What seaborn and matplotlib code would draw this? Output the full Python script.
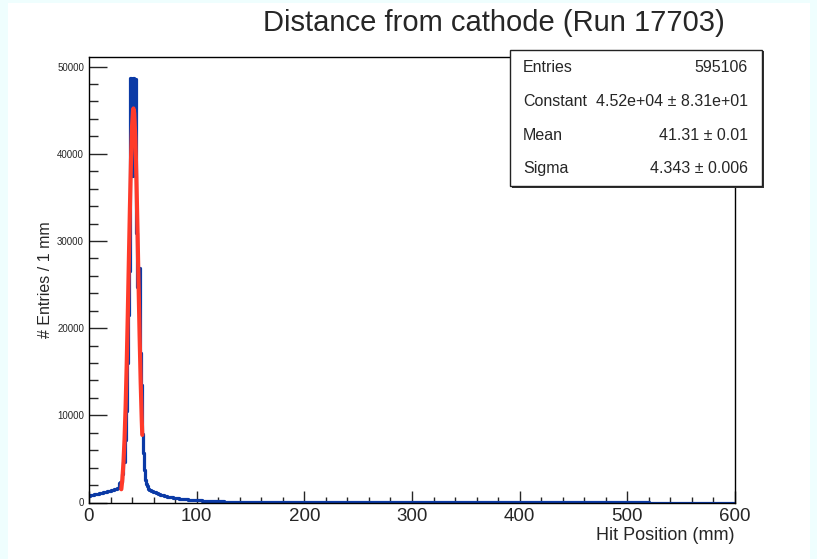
import numpy as np
import pandas as pd
import seaborn as sns
import matplotlib.pyplot as plt
from matplotlib.patches import Rectangle
from matplotlib.ticker import MultipleLocator

# histogram: bin edges (mm) and entries per 1 mm
edges_fine = list(range(0, 61))                       # 1 mm bins 0-60
edges_mid = list(range(62, 101, 2))                   # 2 mm bins 60-100
edges_coarse = list(range(105, 201, 5))               # 5 mm bins 100-200
edges_tail = list(range(210, 521, 10)) + [600]        # 10 mm bins 200-520, empty to 600
bin_edges = edges_fine + edges_mid + edges_coarse + edges_tail

counts_rise = [780, 810, 850, 880, 890, 940, 960, 1000, 1020, 1060,
               1080, 1110, 1120, 1170, 1180, 1230, 1240, 1290, 1320, 1350,
               1400, 1420, 1480, 1500, 1560, 1590, 1640, 1700, 2250, 2350]
counts_peak = [2400, 3300, 4600, 7200, 10500, 16000, 21500, 26600, 48700, 48600,
               37500, 48700, 38000, 48600, 30900, 24700, 26900, 17100, 13500, 7900]
counts_fall = [5700, 3700, 2600, 2100, 1850, 1600, 1480, 1390, 1300, 1230]
counts_mid = [1150, 1080, 1000, 900, 820, 740, 680, 630, 580, 540,
              500, 470, 430, 400, 370, 345, 320, 300, 285, 265]
counts_coarse = [230, 190, 160, 135, 115, 100, 88, 78, 70, 64,
                 58, 54, 50, 47, 44, 42, 40, 38, 36, 34]
counts_tail = [40, 38, 36, 35, 33, 32, 30, 29, 28, 27, 26, 25, 24, 23, 22, 22,
               21, 20, 20, 19, 18, 18, 17, 16, 16, 15, 15, 14, 13, 12, 12, 11, 0]
bin_counts = counts_rise + counts_peak + counts_fall + counts_mid + counts_coarse + counts_tail

# gaussian fit curve
fit_x = [30, 31, 32, 33, 34, 35, 36, 37, 38, 39, 40, 41, 41.3, 42, 43, 44, 45, 46, 47, 48, 49, 49.5]
fit_y = [1520, 2700, 4540, 7250, 10960, 15740, 21400, 27630, 33800, 39240, 43190, 45090, 45200,
         44630, 41910, 37310, 31500, 25230, 19160, 13800, 9430, 7750]

stats_labels = ["Entries", "Constant", "Mean", "Sigma"]
stats_values = ["595106", "4.52e+04 \u00b1 8.31e+01", "41.31 \u00b1 0.01", "4.343 \u00b1 0.006"]

sns.set_style("ticks")
plt.rcParams["font.family"] = ["Liberation Sans", "DejaVu Sans"]

W, H = 817, 559
fig = plt.figure(figsize=(W / 100, H / 100), dpi=100, facecolor="#effefe")
fig.add_artist(Rectangle((8 / W, 0), (810 - 8) / W, 1 - 3 / H, transform=fig.transFigure,
                         facecolor="white", edgecolor="none", zorder=-10))

ax = fig.add_axes([89 / W, 1 - 502.5 / H, (735 - 89) / W, (502.5 - 57) / H])
ax.set_facecolor("white")

centers = [(bin_edges[i] + bin_edges[i + 1]) / 2 for i in range(len(bin_counts))]
df = pd.DataFrame({"pos": centers, "n": bin_counts})
sns.histplot(data=df, x="pos", weights="n", bins=bin_edges, element="step", fill=False,
             color="#0b3aa6", linewidth=2.3, ax=ax)

fit = pd.DataFrame({"x": fit_x, "y": fit_y})
sns.lineplot(data=fit, x="x", y="y", color="#ff3a2a", linewidth=3, estimator=None, sort=False, ax=ax)

ax.set_xlim(0, 600)
ax.set_ylim(0, 51100)
ax.xaxis.set_major_locator(MultipleLocator(100))
ax.xaxis.set_minor_locator(MultipleLocator(20))
ax.yaxis.set_major_locator(MultipleLocator(10000))
ax.yaxis.set_minor_locator(MultipleLocator(2000))
ax.tick_params(axis="x", which="major", direction="in", length=8.6, width=1, labelsize=13.5, pad=4)
ax.tick_params(axis="x", which="minor", direction="in", length=4.3, width=1)
ax.tick_params(axis="y", which="major", direction="in", length=13, width=1, labelsize=7, pad=3.6)
ax.tick_params(axis="y", which="minor", direction="in", length=6.5, width=1)
for s in ax.spines.values():
    s.set_color("black")
    s.set_linewidth(1)

ax.set_xlabel("Hit Position (mm)", fontsize=13, loc="right", va="center")
ax.xaxis.set_label_coords(1.0, -(535 - 502.5) / (502.5 - 57))
ax.set_ylabel("# Entries / 1 mm", fontsize=11.5, va="center")
ax.yaxis.set_label_coords((46 - 89) / (735 - 89), 0.5)

fig.text(493.5 / W, 1 - 23 / H, "Distance from cathode (Run 17703)", fontsize=21,
         ha="center", va="center")

# stats box with a thin shadow
fig.add_artist(Rectangle((511.5 / W, 1 - 187.5 / H), 252 / W, 136 / H, transform=fig.transFigure,
                         facecolor="#333333", edgecolor="none", zorder=5))
fig.add_artist(Rectangle((510 / W, 1 - 186 / H), 252 / W, 136 / H, transform=fig.transFigure,
                         facecolor="white", edgecolor="#222222", linewidth=1, zorder=6))
for i, (lab, val) in enumerate(zip(stats_labels, stats_values)):
    yy = 1 - (68 + i * 33.5) / H
    fig.text(523 / W, yy, lab, fontsize=11.5, ha="left", va="center", zorder=7)
    fig.text(748 / W, yy, val, fontsize=11.5, ha="right", va="center", zorder=7)

fig.savefig("out.png", dpi=100, facecolor=fig.get_facecolor())
